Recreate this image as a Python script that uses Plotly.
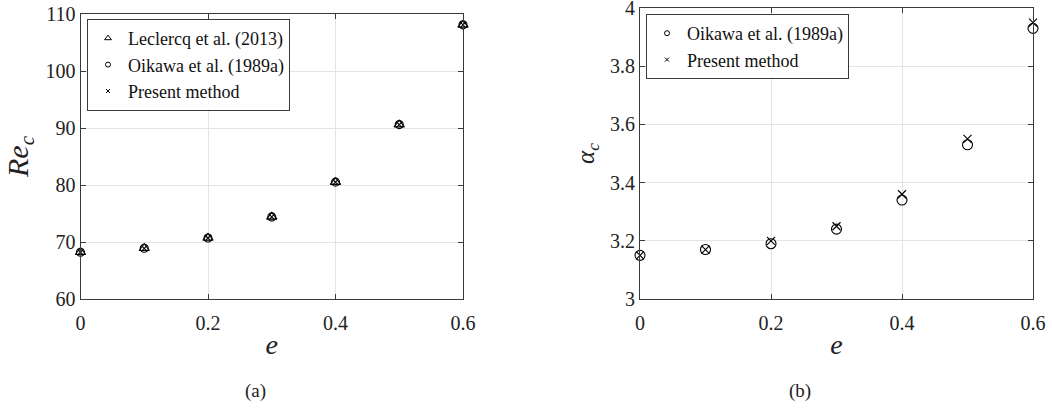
import plotly.graph_objects as go

# Eccentricity values
e = [0.0, 0.1, 0.2, 0.3, 0.4, 0.5, 0.6]

# (a) critical Reynolds number
re_leclercq = [68.2, 68.9, 70.7, 74.4, 80.5, 90.6, 108.1]
re_oikawa = [68.2, 68.9, 70.7, 74.4, 80.5, 90.6, 108.1]
re_present = [68.2, 68.9, 70.7, 74.4, 80.5, 90.6, 108.1]

# (b) critical wavenumber
alpha_oikawa = [3.15, 3.17, 3.19, 3.24, 3.34, 3.53, 3.93]
alpha_present = [3.15, 3.17, 3.20, 3.25, 3.36, 3.55, 3.95]

SERIF = "Liberation Serif"
AX = "#3a3a3a"
GRID = "#e4e4e4"

fig = go.Figure()


def add(x, y, xa, ya, name, symbol, size, legsize, legend="legend"):
    # data markers
    fig.add_trace(go.Scatter(
        x=x, y=y, xaxis=xa, yaxis=ya, mode="markers", name=name,
        cliponaxis=False, showlegend=False,
        marker=dict(symbol=symbol, size=size, color="black",
                    line=dict(color="black", width=1.1)),
    ))
    # small legend key
    fig.add_trace(go.Scatter(
        x=[None], y=[None], xaxis=xa, yaxis=ya, mode="markers", name=name,
        legend=legend,
        marker=dict(symbol=symbol, size=legsize, color="black",
                    line=dict(color="black", width=1)),
    ))


add(e, re_leclercq, "x", "y", "Leclercq et al. (2013)", "triangle-up-open", 9, 6)
add(e, re_oikawa, "x", "y", "Oikawa et al. (1989a)", "circle-open", 8, 5)
add(e, re_present, "x", "y", "Present method", "x-thin-open", 6, 4)

add(e, alpha_oikawa, "x2", "y2", "Oikawa et al. (1989a)", "circle-open", 10, 5, legend="legend2")
add(e, alpha_present, "x2", "y2", "Present method", "x-thin-open", 8, 4, legend="legend2")

W, H = 1052, 411


def axis(domain, rng, dtick, anchor, title, tsize, standoff, lblstand):
    return dict(
        domain=domain, range=rng, dtick=dtick, tick0=rng[0], anchor=anchor,
        automargin=False, ticklabeloverflow="allow",
        showline=True, linecolor=AX, linewidth=1, mirror="ticks",
        ticks="inside", ticklen=5, tickcolor=AX, showgrid=True,
        gridcolor=GRID, gridwidth=1, zeroline=False,
        ticklabelstandoff=lblstand,
        tickfont=dict(family=SERIF, size=20, color="#222"),
        title=dict(text=title, font=dict(family=SERIF, size=tsize, color="#222"),
                   standoff=standoff),
    )


lx = [80.5 / W, 463 / W]
rx = [640 / W, 1033 / W]
ly = [1 - 299 / H, 1 - 14 / H]
ry = [1 - 299 / H, 1 - 8 / H]

fig.update_layout(
    width=W, height=H,
    margin=dict(l=0, r=0, t=0, b=0, autoexpand=False),
    paper_bgcolor="white", plot_bgcolor="white",
    font=dict(family=SERIF),
    xaxis=axis(lx, [0, 0.6], 0.2, "y", "<i>e</i>", 28, 1, 6),
    yaxis=axis(ly, [60, 110], 10, "x", "<i>Re</i><sub><i>c</i></sub>", 30, 8, 0),
    xaxis2=axis(rx, [0, 0.6], 0.2, "y2", "<i>e</i>", 28, 1, 6),
    yaxis2=axis(ry, [3, 4], 0.2, "x2", "<i>α</i><sub><i>c</i></sub>", 25, 8, 0),
    legend=dict(x=87 / W, y=1 - 19 / H, xanchor="left", yanchor="top",
                bgcolor="white", bordercolor=AX, borderwidth=1,
                font=dict(family=SERIF, size=18, color="#111"),
                itemsizing="trace", itemwidth=30, tracegroupgap=0),
    legend2=dict(x=646 / W, y=1 - 14 / H, xanchor="left", yanchor="top",
                 bgcolor="white", bordercolor=AX, borderwidth=1,
                 font=dict(family=SERIF, size=18, color="#111"),
                 itemsizing="trace", itemwidth=30, tracegroupgap=0),
    annotations=[
        dict(text="(a)", x=243 / W, y=1 - 391 / H, xref="paper", yref="paper",
             yanchor="middle", showarrow=False,
             font=dict(family=SERIF, size=19, color="#222")),
        dict(text="(b)", x=813 / W, y=1 - 391 / H, xref="paper", yref="paper",
             yanchor="middle", showarrow=False,
             font=dict(family=SERIF, size=19, color="#222")),
    ],
)

fig.write_html("out.html")
